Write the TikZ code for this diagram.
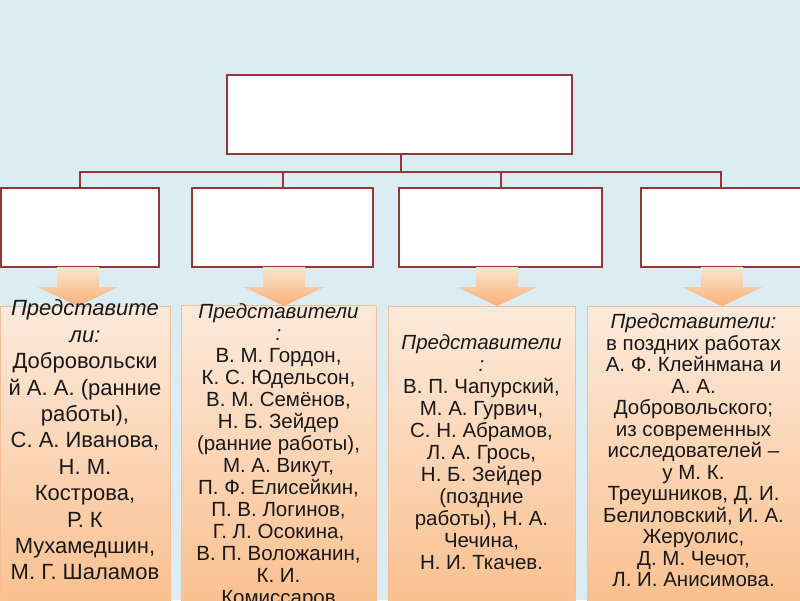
\documentclass[tikz,border=0pt]{standalone}
\usepackage{fontspec}
\setmainfont{Liberation Sans}
\usetikzlibrary{positioning}
\definecolor{Slide_Blue}{HTML}{DBECF2}
\definecolor{Box_Red}{HTML}{953735}
\definecolor{Peach_Light}{HTML}{FDEADB}
\definecolor{Peach_Dark}{HTML}{FAC08F}
\definecolor{Peach_Edge}{HTML}{F4BF97}
\definecolor{Arrow_Light}{HTML}{FDE5CF}
\definecolor{Arrow_Dark}{HTML}{F8B075}

\begin{document}
\begin{tikzpicture}[x=1pt, y=-1pt,
  every node/.style={inner sep=0pt, outer sep=0pt},
  wbox/.style={draw=Box_Red, line width=2pt, fill=white, minimum height=79pt, anchor=north west},
  pbox/.style={draw=Peach_Edge, line width=0.8pt, top color=Peach_Light, bottom color=Peach_Dark, minimum height=300pt, anchor=north west},
  conn/.style={draw=Box_Red, line width=2pt},
  names/.style={align=center, anchor=north, text=black!90, font=\fontsize{20.5}{22}\selectfont},
  bignames/.style={names, font=\fontsize{22}{26.4}\selectfont},
  downarrow/.pic={
    \path[top color=Arrow_Light, bottom color=Arrow_Dark]
      (-21,0) -- (21,0) -- (21,20) -- (40.5,20) -- (0,39) -- (-40.5,20) -- (-21,20) -- cycle;
  }
]
  \useasboundingbox (0,0) rectangle (800,600);
  \fill[Slide_Blue] (0,0) rectangle (800,600);

  % Top: chart head and the four branches
  \node[wbox, minimum width=345pt] (head) at (227,75) {};
  \node[wbox, minimum width=158pt] (b1) at (1,188) {};
  \node[wbox, minimum width=181pt] (b2) at (192,188) {};
  \node[wbox, minimum width=203pt] (b3) at (399,188) {};
  \node[wbox, minimum width=160pt] (b4) at (641,188) {};

  % Connections
  \coordinate (bus) at (401,172);
  \draw[conn] (head.south -| bus) -- (bus);
  \draw[conn] (bus) -| (b1.north);
  \draw[conn] (bus) -| (b2.north);
  \draw[conn] (bus) -| (b3.north);
  \draw[conn] (bus) -| (b4.north);

  % Bottom: lists of representatives
  \node[pbox, minimum width=170pt] (pA) at (0,306) {};
  \node[pbox, minimum width=195pt] (pB) at (181,305) {};
  \node[pbox, minimum width=187pt] (pC) at (388,306) {};
  \node[pbox, minimum width=214pt] (pD) at (587,306) {};

  % Block arrows
  \pic at (78,267) {downarrow};
  \pic at (284,267) {downarrow};
  \pic at (497,267) {downarrow};
  \pic at (722,267) {downarrow};

  \node[bignames] (tA) at (85,300) {{\itshape Представите}\\{\itshape ли:}\\Добровольски\\й А. А. (ранние\\работы),\\С. А. Иванова,\\Н. М.\\Кострова,\\Р. К\\Мухамедшин,\\М. Г. Шаламов};
  \node[names] (tB) at (278.5,304) {{\itshape Представители}\\{\itshape :}\\В. М. Гордон,\\К. С. Юдельсон,\\В. М. Семёнов,\\Н. Б. Зейдер\\(ранние работы),\\М. А. Викут,\\П. Ф. Елисейкин,\\П. В. Логинов,\\Г. Л. Осокина,\\В. П. Воложанин,\\К. И.\\Комиссаров};
  \node[names] (tC) at (481.5,335) {{\itshape Представители}\\{\itshape :}\\В. П. Чапурский,\\М. А. Гурвич,\\С. Н. Абрамов,\\Л. А. Грось,\\Н. Б. Зейдер\\(поздние\\работы), Н. А.\\Чечина,\\Н. И. Ткачев.};
  \node[names, font=\fontsize{20.5}{21.5}\selectfont] (tD) at (693.5,314) {{\itshape Представители:}\\в поздних работах\\А. Ф. Клейнмана и\\А. А.\\Добровольского;\\из современных\\исследователей –\\у М. К.\\Треушников, Д. И.\\Белиловский, И. А.\\Жеруолис,\\Д. М. Чечот,\\Л. И. Анисимова.};
\end{tikzpicture}
\end{document}
